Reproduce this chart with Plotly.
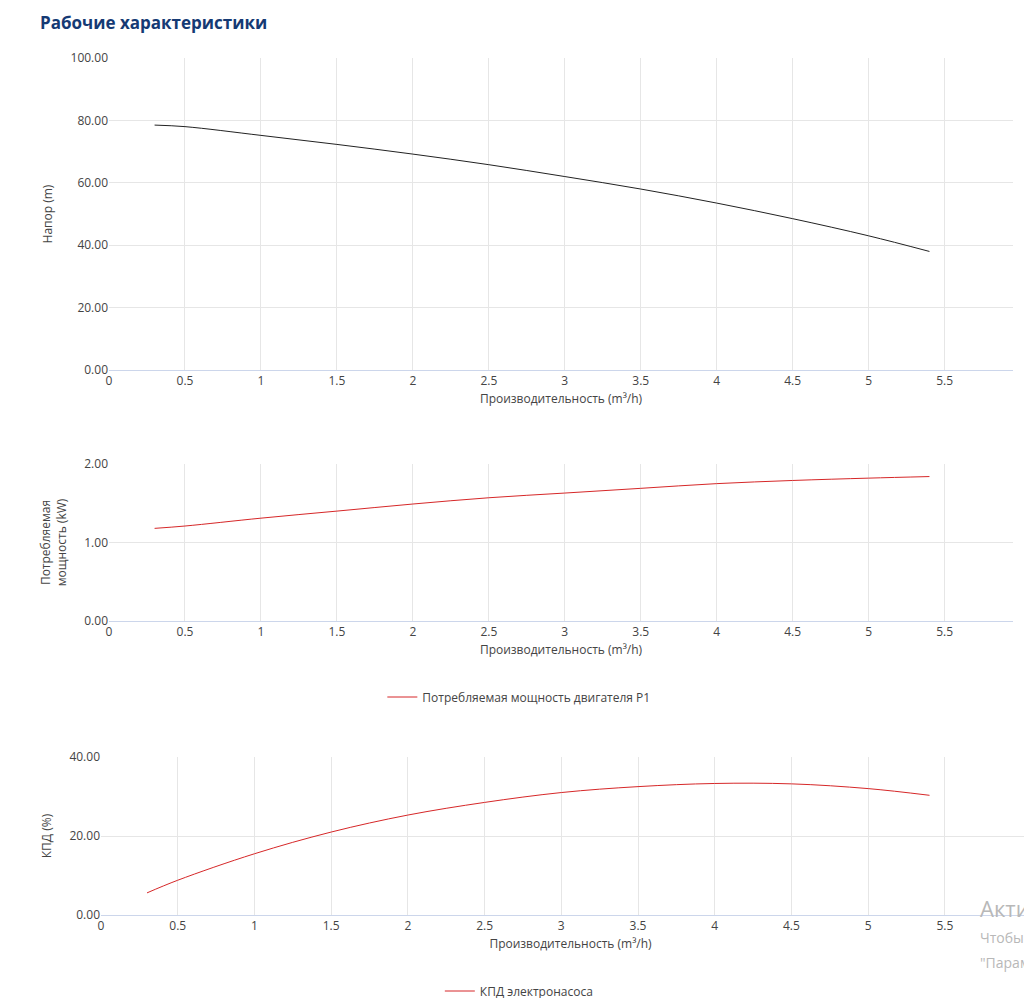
import plotly.graph_objects as go

# pump curves
q = [0.3, 0.5, 1.0, 1.5, 2.0, 2.5, 3.0, 3.5, 4.0, 4.5, 5.0, 5.4]
head = [78.5, 78.0, 75.2, 72.3, 69.2, 65.8, 62.0, 58.0, 53.5, 48.5, 43.0, 38.0]
power = [1.18, 1.21, 1.31, 1.40, 1.49, 1.57, 1.63, 1.69, 1.75, 1.79, 1.82, 1.84]
eff = [5.6, 8.8, 15.5, 21.0, 25.3, 28.5, 31.0, 32.5, 33.3, 33.2, 32.0, 30.3]
xticks = [0, 0.5, 1, 1.5, 2, 2.5, 3, 3.5, 4, 4.5, 5, 5.5]

W, H = 1032, 998
font = dict(family="Open Sans", size=12, color="#444")

def py(a, b):
    return [1 - b / H, 1 - a / H]

fig = go.Figure()
fig.add_trace(go.Scatter(x=q, y=head, mode="lines", line=dict(color="#222", width=1, shape="spline"),
                         showlegend=False, xaxis="x", yaxis="y"))
fig.add_trace(go.Scatter(x=q, y=power, mode="lines", line=dict(color="#d62728", width=1, shape="spline"),
                         name="Потребляемая мощность двигателя P1", xaxis="x2", yaxis="y2",
                         legend="legend"))
fig.add_trace(go.Scatter(x=q, y=eff, mode="lines", line=dict(color="#d62728", width=1, shape="spline"),
                         name="КПД электронасоса", xaxis="x3", yaxis="y3", legend="legend2"))

xcommon = dict(tickvals=xticks, showgrid=True, gridcolor="#e6e6e6", showline=True,
               linecolor="#ccd6eb", zeroline=False, ticks="", tickfont=font, automargin=False,
               title=dict(text="Производительность (m³/h)", font=font, standoff=6))
ycommon = dict(showgrid=True, gridcolor="#e6e6e6", zeroline=False, tickformat=".2f",
               tickfont=font, ticks="", automargin=False)

fig.update_layout(
    width=W, height=H, margin=dict(l=0, r=0, t=0, b=0, autoexpand=False),
    plot_bgcolor="white", paper_bgcolor="white", font=font,
    xaxis=dict(xcommon, domain=[101 / W, 1005 / W], range=[0, 5.95], anchor="y"),
    yaxis=dict(ycommon, domain=py(50, 362), range=[0, 100], dtick=20, anchor="x",
               title=dict(text="Напор (m)", font=font)),
    xaxis2=dict(xcommon, domain=[101 / W, 1005 / W], range=[0, 5.95], anchor="y2"),
    yaxis2=dict(ycommon, domain=py(456, 613), range=[0, 2], dtick=1, anchor="x2",
                title=dict(text="Потребляемая<br>мощность (kW)", font=font)),
    xaxis3=dict(xcommon, domain=[93 / W, 1.0], range=[0, 6.12], anchor="y3"),
    yaxis3=dict(ycommon, domain=py(749, 907), range=[0, 40], dtick=20, anchor="x3",
                title=dict(text="КПД (%)", font=font)),
    legend=dict(x=0.495, y=1 - 689 / H, xanchor="center", yanchor="middle",
                orientation="h", font=font),
    legend2=dict(x=0.495, y=1 - 983 / H, xanchor="center", yanchor="middle",
                 orientation="h", font=font),
    annotations=[
        dict(text="<b>Рабочие характеристики</b>", x=30 / W, y=1 - 14 / H, xref="paper",
             yref="paper", xanchor="left", yanchor="middle", showarrow=False,
             font=dict(family="Open Sans", size=17, color="#153a74")),
        dict(text="Актив", x=970 / W, y=1 - 900 / H, xref="paper", yref="paper",
             xanchor="left", yanchor="middle", showarrow=False,
             font=dict(family="Open Sans", size=22, color="#b8b8b8")),
        dict(text="Чтобы а", x=970 / W, y=1 - 929 / H, xref="paper", yref="paper",
             xanchor="left", yanchor="middle", showarrow=False,
             font=dict(family="Open Sans", size=14, color="#b8b8b8")),
        dict(text="\"Парам", x=970 / W, y=1 - 954 / H, xref="paper", yref="paper",
             xanchor="left", yanchor="middle", showarrow=False,
             font=dict(family="Open Sans", size=14, color="#b8b8b8")),
    ],
)

fig.write_html("out.html")
